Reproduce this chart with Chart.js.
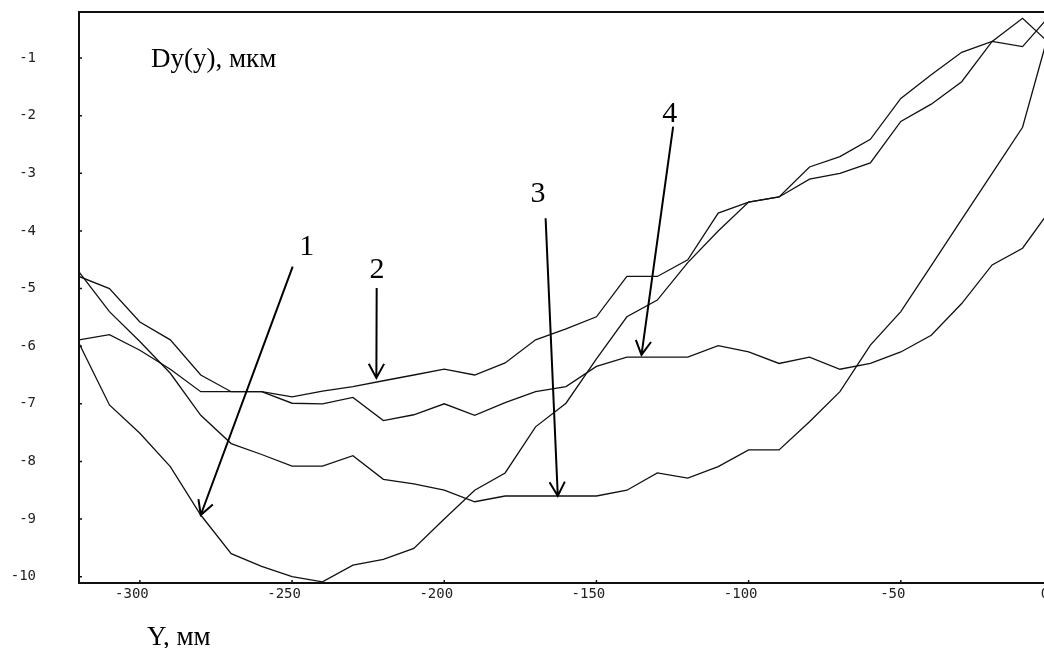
<!DOCTYPE html>
<html>
<head>
<meta charset="utf-8">
<script src="https://cdn.jsdelivr.net/npm/chart.js@4.4.0/dist/chart.umd.min.js"></script>
<style>
  html, body { margin: 0; padding: 0; background: #fff; overflow: hidden; width: 1044px; height: 648px; }
  canvas { display: block; }
</style>
</head>
<body>
<canvas id="chart" width="1075" height="648" style="width:1075px;height:648px"></canvas>
<script>
// ========================
// DATA
// ========================
const xValues = [-320, -310, -300, -290, -280, -270, -260, -250, -240, -230, -220,
  -210, -200, -190, -180, -170, -160, -150, -140, -130, -120, -110,
  -100, -90, -80, -70, -60, -50, -40, -30, -20, -10, 0];

const curve1 = [-5.95, -7.02, -7.51, -8.09, -8.93, -9.6, -9.82, -10.0, -10.09, -9.8, -9.7,
  -9.51, -9.0, -8.5, -8.2, -7.4, -6.99, -6.22, -5.49, -5.2, -4.55, -4.0,
  -3.5, -3.41, -3.1, -3.0, -2.82, -2.1, -1.8, -1.41, -0.71, -0.31, -0.8];

const curve2 = [-5.89, -5.8, -6.07, -6.4, -6.79, -6.79, -6.79, -6.88, -6.78, -6.7, -6.6,
  -6.5, -6.4, -6.5, -6.29, -5.89, -5.7, -5.49, -4.79, -4.79, -4.5, -3.69,
  -3.5, -3.41, -2.89, -2.71, -2.41, -1.7, -1.29, -0.9, -0.71, -0.8, -0.2];

const curve3 = [-4.71, -5.4, -5.92, -6.47, -7.2, -7.69, -7.88, -8.08, -8.08, -7.9, -8.31,
  -8.39, -8.5, -8.7, -8.6, -8.6, -8.6, -8.6, -8.5, -8.2, -8.29, -8.09,
  -7.8, -7.8, -7.31, -6.79, -5.98, -5.4, -4.6, -3.8, -3.0, -2.2, -0.3];

const curve4 = [-4.79, -5.0, -5.58, -5.89, -6.5, -6.79, -6.79, -6.99, -7.0, -6.89, -7.29,
  -7.19, -7.0, -7.2, -6.98, -6.79, -6.7, -6.35, -6.19, -6.19, -6.19, -5.99,
  -6.1, -6.3, -6.19, -6.4, -6.3, -6.1, -5.81, -5.26, -4.59, -4.3, -3.57];

const xTicks = [-300, -250, -200, -150, -100, -50, 0];
const yTicks = [-1, -2, -3, -4, -5, -6, -7, -8, -9, -10];

// curve number labels and their arrows (data units)
const arrowLabels = ["1", "2", "3", "4"];
const labelAt = [[-245.2, -4.42], [-222.1, -4.82], [-169.2, -3.49], [-125.9, -2.11]];
const arrowFrom = [[-249.8, -4.62], [-222.2, -4.99], [-166.7, -3.78], [-124.8, -2.19]];
const arrowTo = [[-280.0, -8.93], [-222.3, -6.55], [-162.7, -8.6], [-135.2, -6.15]];

const titleText = "Dy(y), мкм";
const xAxisText = "Y, мм";

const PLOT_TOP = 12;

// ========================
// HELPERS
// ========================
function toPoints(values) {
  return values.map((v, i) => ({ x: xValues[i], y: v }));
}

function lineDataset(values) {
  return {
    data: toPoints(values),
    borderColor: "#111",
    borderWidth: 1.3,
    pointRadius: 0,
    tension: 0,
    fill: false
  };
}

const tickFont = { family: "'DejaVu Sans Mono', monospace", size: 14 };

// box round the plot + small inner tick marks
const framePlugin = {
  id: "frame",
  afterDraw(chart) {
    const { ctx, chartArea: a, scales } = chart;
    ctx.save();
    ctx.strokeStyle = "#111";
    ctx.lineWidth = 2;
    ctx.strokeRect(a.left, a.top, a.right - a.left, a.bottom - a.top);

    ctx.lineWidth = 1.5;
    ctx.beginPath();
    yTicks.forEach(v => {
      const y = scales.y.getPixelForValue(v);
      ctx.moveTo(a.left, y);
      ctx.lineTo(a.left + 3, y);
    });
    xTicks.forEach(v => {
      const x = scales.x.getPixelForValue(v);
      ctx.moveTo(x, a.bottom);
      ctx.lineTo(x, a.bottom - 3);
    });
    ctx.stroke();
    ctx.restore();
  }
};

// arrows, curve numbers and axis captions
const notesPlugin = {
  id: "notes",
  afterDatasetsDraw(chart) {
    const { ctx, scales } = chart;
    const px = p => [scales.x.getPixelForValue(p[0]), scales.y.getPixelForValue(p[1])];
    ctx.save();
    ctx.strokeStyle = "#000";
    ctx.fillStyle = "#000";
    ctx.lineWidth = 2;

    arrowLabels.forEach((txt, i) => {
      const [x1, y1] = px(arrowFrom[i]);
      const [x2, y2] = px(arrowTo[i]);
      ctx.beginPath();
      ctx.moveTo(x1, y1);
      ctx.lineTo(x2, y2);
      // open V head
      const ang = Math.atan2(y2 - y1, x2 - x1);
      const len = 16, spread = 0.5;
      ctx.moveTo(x2 - len * Math.cos(ang - spread), y2 - len * Math.sin(ang - spread));
      ctx.lineTo(x2, y2);
      ctx.lineTo(x2 - len * Math.cos(ang + spread), y2 - len * Math.sin(ang + spread));
      ctx.stroke();

      const [lx, ly] = px(labelAt[i]);
      ctx.font = "30px 'Liberation Serif', serif";
      ctx.textAlign = "center";
      ctx.textBaseline = "alphabetic";
      ctx.fillText(txt, lx, ly);
    });

    ctx.font = "27px 'Liberation Serif', serif";
    ctx.textAlign = "left";
    ctx.fillText(titleText, 151, 67);
    ctx.fillText(xAxisText, 147, 645);
    ctx.restore();
  }
};

// ========================
// RENDER
// ========================
const chart = new Chart(document.getElementById("chart"), {
  type: "line",
  data: {
    datasets: [lineDataset(curve1), lineDataset(curve2), lineDataset(curve3), lineDataset(curve4)]
  },
  options: {
    responsive: false,
    animation: false,
    devicePixelRatio: 1,
    layout: { autoPadding: false, padding: { left: 0, top: PLOT_TOP, right: 22, bottom: 0 } },
    plugins: { legend: { display: false }, tooltip: { enabled: false } },
    scales: {
      x: {
        type: "linear",
        min: -320,
        max: 0,
        grid: { display: false, drawTicks: false },
        border: { display: false },
        afterBuildTicks: s => { s.ticks = xTicks.map(v => ({ value: v })); },
        afterFit: s => { s.height = 65; s.paddingLeft = 0; s.paddingRight = 0; },
        ticks: {
          font: tickFont,
          color: "#222",
          padding: 3,
          labelOffset: -8,
          autoSkip: false,
          maxRotation: 0,
          callback: v => String(v)
        }
      },
      y: {
        type: "linear",
        min: -10.11,
        max: -0.2,
        grid: { display: false, drawTicks: false },
        border: { display: false },
        afterBuildTicks: s => { s.ticks = yTicks.map(v => ({ value: v })); },
        afterFit: s => { s.width = 79; s.paddingTop = 0; s.paddingBottom = 0; },
        ticks: {
          font: tickFont,
          color: "#222",
          padding: 43,
          autoSkip: false,
          callback: v => String(v)
        }
      }
    }
  },
  plugins: [framePlugin, notesPlugin]
});

// if the layout still pushed the plot down, pull it back up
const extra = chart.chartArea.top - PLOT_TOP;
if (Math.abs(extra) > 0.5) {
  chart.options.layout.padding.top = PLOT_TOP - extra;
  chart.update();
}
</script>
</body>
</html>
